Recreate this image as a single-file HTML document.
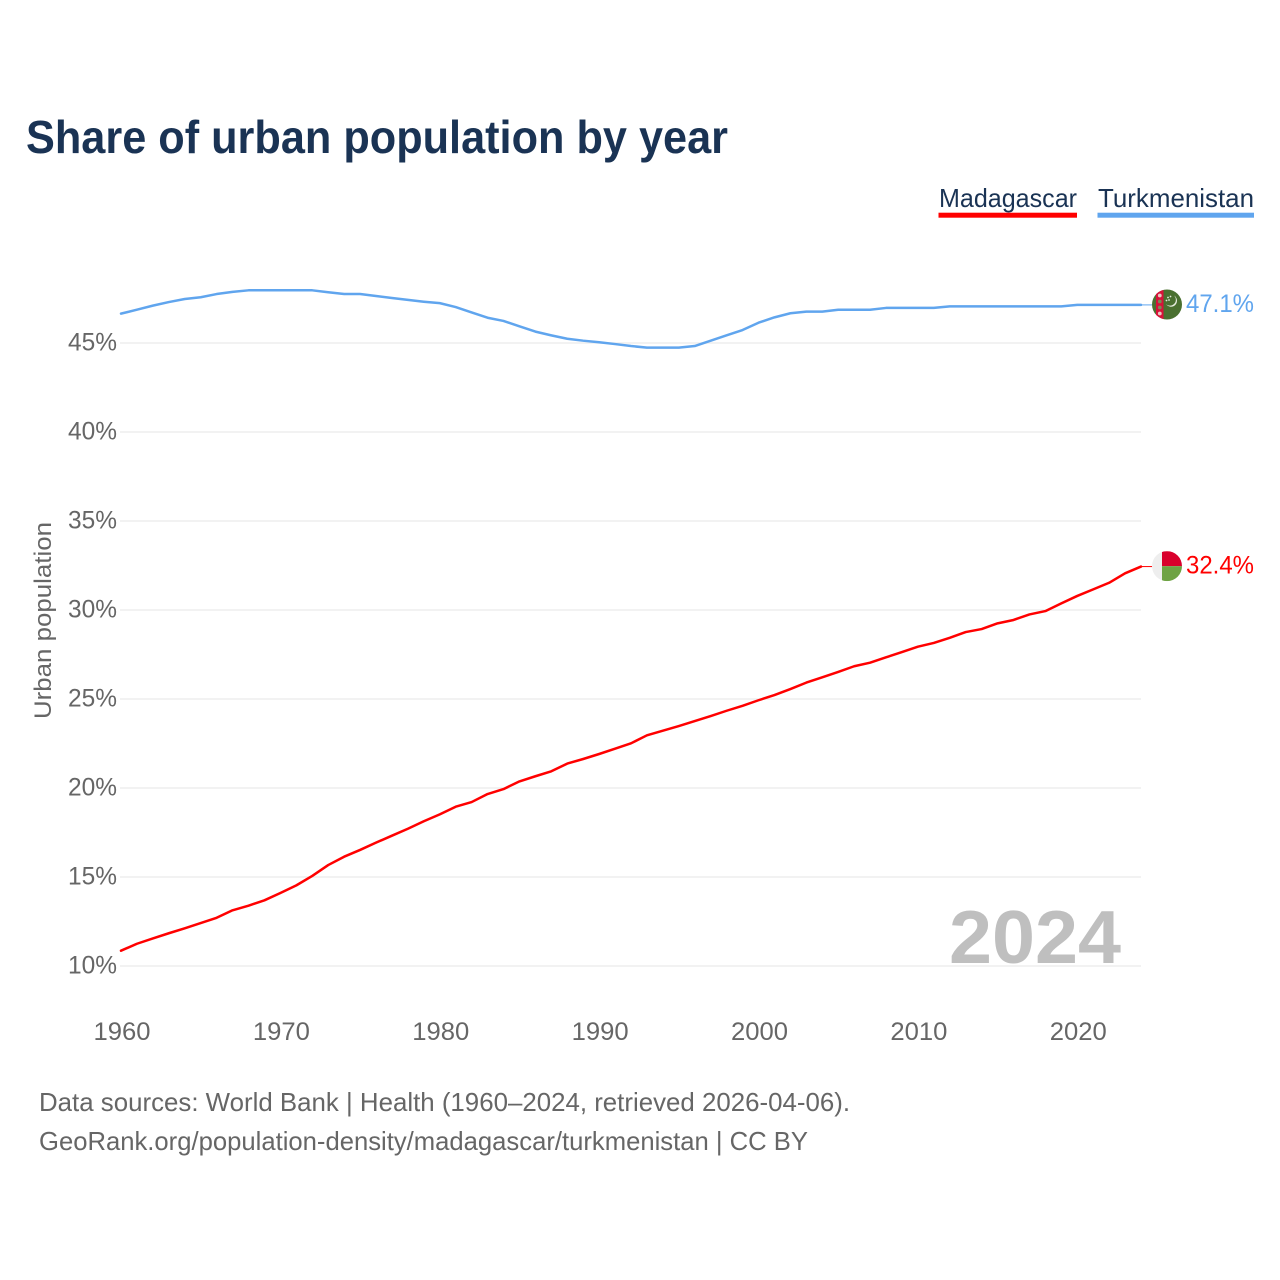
<!DOCTYPE html>
<html lang="en">
<head>
<meta charset="utf-8">
<title>Share of urban population by year</title>
<style>
html,body{margin:0;padding:0;background:#fff;width:1280px;height:1280px;overflow:hidden}
svg{display:block;font-family:"Liberation Sans",sans-serif}
</style>
</head>
<body>
<svg id="chart" xmlns="http://www.w3.org/2000/svg" width="1280" height="1280" viewBox="0 0 1280 1280">
  <rect width="1280" height="1280" fill="#fff"/>
  <text x="26" y="153" font-size="46" font-weight="700" fill="#1a3354" textLength="702" lengthAdjust="spacingAndGlyphs">Share of urban population by year</text>

  <g>
    <g>
      <text x="939" y="207" font-size="26" fill="#1a3354" textLength="138" lengthAdjust="spacingAndGlyphs">Madagascar</text>
      <rect x="938.5" y="212.7" width="138.5" height="5" fill="#ff0000"/>
    </g>
    <g>
      <text x="1098" y="207" font-size="26" fill="#1a3354" textLength="156" lengthAdjust="spacingAndGlyphs">Turkmenistan</text>
      <rect x="1097.5" y="212.7" width="156.5" height="5" fill="#60a5ee"/>
    </g>
  </g>

  <g id="grid"></g>
  <g id="yticks"></g>
  <g id="xticks"></g>
  <text transform="translate(51,620.5) rotate(-90)" text-anchor="middle" font-size="24" fill="#666" textLength="197" lengthAdjust="spacingAndGlyphs">Urban population</text>

  <text x="1121" y="963" text-anchor="end" font-size="75" font-weight="700" fill="#bfbfbf" textLength="172" lengthAdjust="spacingAndGlyphs">2024</text>

  <g id="series"></g>

  <defs>
    <clipPath id="flag-clip"><circle cx="0" cy="0" r="15"/></clipPath>
  </defs>
  <g id="flag-turkmenistan">
    <g clip-path="url(#flag-clip)">
      <rect x="-15" y="-15" width="30" height="30" fill="#4a7030"/>
      <rect x="-11" y="-15" width="7.5" height="30" fill="#d8123a"/>
      <circle cx="-7.2" cy="-9" r="1.9" fill="#e8c9c0"/>
      <circle cx="-7.2" cy="-3" r="1.9" fill="#7d8a55"/>
      <circle cx="-7.2" cy="3" r="1.9" fill="#7d8a55"/>
      <circle cx="-7.2" cy="9" r="1.9" fill="#e8c9c0"/>
      <path d="M7 -9 A6 6 0 1 1 -1 -0.5 A5 5 0 0 0 7 -9Z" fill="#e6ecdf"/>
      <circle cx="1" cy="-7" r="0.9" fill="#e6ecdf"/>
      <circle cx="-0.5" cy="-4" r="0.9" fill="#e6ecdf"/>
      <circle cx="3.5" cy="-8" r="0.9" fill="#e6ecdf"/>
      <circle cx="2" cy="-4.5" r="0.9" fill="#e6ecdf"/>
    </g>
  </g>
  <g id="flag-madagascar">
    <g clip-path="url(#flag-clip)">
      <rect x="-15" y="-15" width="10" height="30" fill="#eeeeee"/>
      <rect x="-5" y="-15" width="20" height="15" fill="#d9002c"/>
      <rect x="-5" y="0" width="20" height="15" fill="#6ea344"/>
    </g>
  </g>
  <text id="value-turkmenistan" x="1186" font-size="25" fill="#60a5ee" textLength="68" lengthAdjust="spacingAndGlyphs"></text>
  <text id="value-madagascar" x="1186" font-size="25" fill="#ff0000" textLength="68" lengthAdjust="spacingAndGlyphs"></text>

  <text x="39" y="1111" font-size="26" fill="#666" textLength="811" lengthAdjust="spacingAndGlyphs">Data sources: World Bank | Health (1960–2024, retrieved 2026-04-06).</text>
  <text x="39" y="1150" font-size="26" fill="#666" textLength="769" lengthAdjust="spacingAndGlyphs">GeoRank.org/population-density/madagascar/turkmenistan | CC BY</text>
</svg>
<script>
var years = [1960,1961,1962,1963,1964,1965,1966,1967,1968,1969,1970,1971,1972,1973,1974,1975,1976,1977,1978,1979,1980,1981,1982,1983,1984,1985,1986,1987,1988,1989,1990,1991,1992,1993,1994,1995,1996,1997,1998,1999,2000,2001,2002,2003,2004,2005,2006,2007,2008,2009,2010,2011,2012,2013,2014,2015,2016,2017,2018,2019,2020,2021,2022,2023,2024];
var madagascar = [10.86,11.25,11.55,11.84,12.12,12.41,12.71,13.13,13.39,13.69,14.10,14.53,15.06,15.67,16.14,16.52,16.93,17.32,17.71,18.13,18.52,18.95,19.21,19.66,19.94,20.37,20.66,20.94,21.37,21.63,21.91,22.21,22.51,22.96,23.22,23.48,23.76,24.04,24.34,24.62,24.93,25.22,25.56,25.92,26.22,26.52,26.84,27.04,27.34,27.64,27.94,28.15,28.44,28.76,28.93,29.25,29.44,29.75,29.94,30.37,30.79,31.16,31.53,32.06,32.44];
var turkmenistan = [46.65,46.87,47.10,47.30,47.47,47.57,47.75,47.87,47.96,47.96,47.96,47.96,47.96,47.85,47.75,47.75,47.64,47.53,47.42,47.32,47.24,47.02,46.72,46.42,46.24,45.94,45.64,45.43,45.24,45.13,45.04,44.94,44.83,44.74,44.74,44.74,44.83,45.13,45.43,45.73,46.14,46.44,46.67,46.76,46.76,46.87,46.87,46.87,46.97,46.97,46.97,46.97,47.06,47.06,47.06,47.06,47.06,47.06,47.06,47.06,47.14,47.14,47.14,47.14,47.14];
var yTicks = [10,15,20,25,30,35,40,45];
var xTicks = [1960,1970,1980,1990,2000,2010,2020];

var NS = 'http://www.w3.org/2000/svg';
function xScale(year){ return 121 + (year - 1960) * (1141 - 121) / 64; }
function yScale(v){ return 966 - (v - 10) * 17.8; }
function make(tag, parent, attrs){
  var el = document.createElementNS(NS, tag);
  for (var k in attrs) el.setAttribute(k, attrs[k]);
  parent.appendChild(el);
  return el;
}

var grid = document.getElementById('grid');
var yTickGroup = document.getElementById('yticks');
var xTickGroup = document.getElementById('xticks');
var seriesGroup = document.getElementById('series');

yTicks.forEach(function(t){
  var line = make('line', grid, {x1:120, x2:1141, y1:yScale(t), y2:yScale(t), stroke:'#eeeeee', 'stroke-width':1.6});
  
  
  var label = make('text', yTickGroup, {x:117, y:yScale(t)+7.5, 'text-anchor':'end', 'font-size':25, fill:'#666', textLength:49, lengthAdjust:'spacingAndGlyphs'});
  label.textContent = t + '%';
  
  
});

xTicks.forEach(function(t){
  var label = make('text', xTickGroup, {x:xScale(t)+1, y:1040, 'text-anchor':'middle', 'font-size':25, fill:'#666', textLength:57, lengthAdjust:'spacingAndGlyphs'});
  label.textContent = t;
  
  
});

function drawSeries(values, color, key){
  var pts = values.map(function(v, i){ return xScale(years[i]).toFixed(2) + ',' + yScale(v).toFixed(2); }).join(' ');
  var line = make('polyline', seriesGroup, {points:pts, fill:'none', stroke:color, 'stroke-width':2.5, 'stroke-linejoin':'round', 'stroke-linecap':'round'});
  
  
  var last = values[values.length - 1];
  var lastY = yScale(last);
  var lastX = xScale(years[years.length - 1]);
  var stub = make('line', seriesGroup, {x1:lastX, x2:lastX + 11, y1:lastY, y2:lastY, stroke:color, 'stroke-width':1});
  
  
  document.getElementById('flag-' + key).setAttribute('transform', 'translate(' + (lastX + 26) + ',' + (lastY - 0.4) + ')');
  var label = document.getElementById('value-' + key);
  label.setAttribute('y', lastY + 7);
  label.textContent = last.toFixed(1) + '%';
}
drawSeries(madagascar, '#ff0000', 'madagascar');
drawSeries(turkmenistan, '#60a5ee', 'turkmenistan');
</script>
</body>
</html>
